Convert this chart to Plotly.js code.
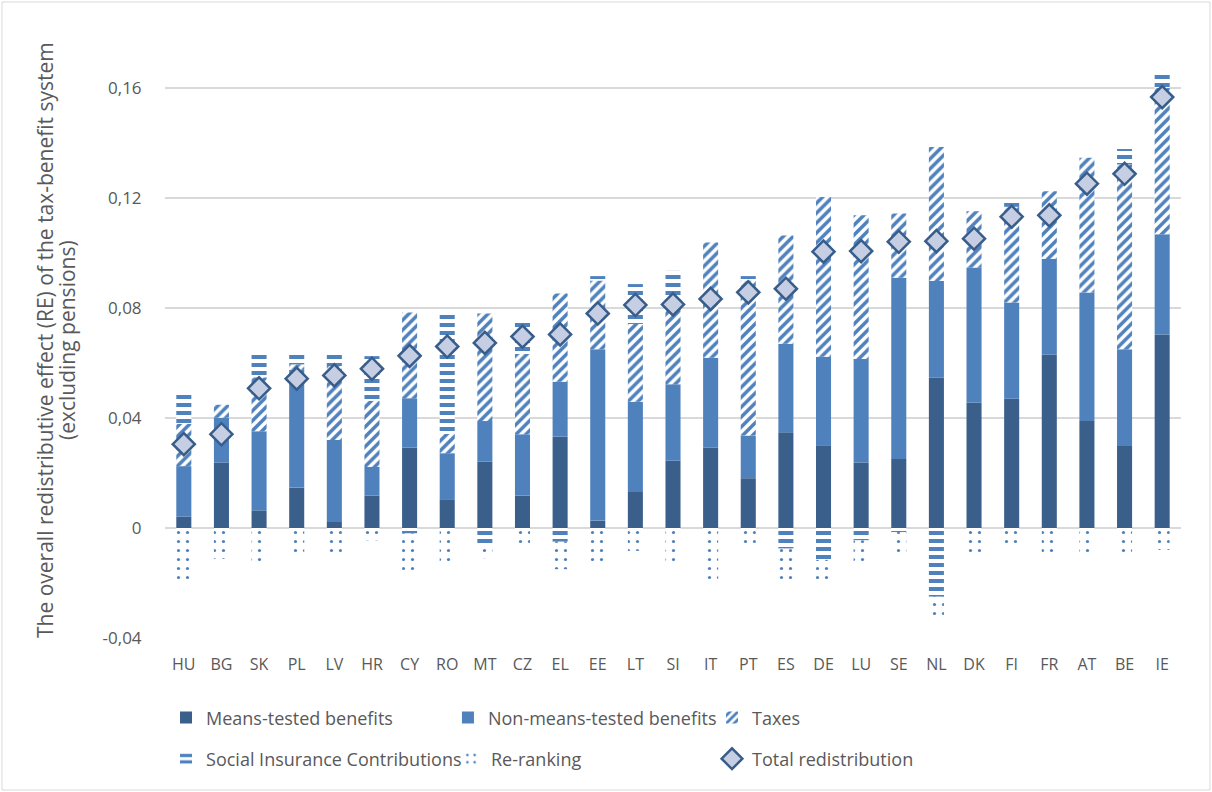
<!DOCTYPE html>
<html>
<head>
<meta charset="utf-8">
<script src="https://cdn.plot.ly/plotly-3.0.1.min.js"></script>
<style>
  html, body { margin: 0; padding: 0; background: #ffffff; }
  #chart { width: 1212px; height: 792px; }
</style>
</head>
<body>
<div id="chart"></div>
<script>
// ---- Data ----
const countries = ["HU","BG","SK","PL","LV","HR","CY","RO","MT","CZ","EL","EE","LT","SI","IT","PT","ES","DE","LU","SE","NL","DK","FI","FR","AT","BE","IE"];

const meansTested = [0.0041,0.0238,0.0064,0.0147,0.0022,0.0118,0.0292,0.0102,0.0241,0.0118,0.0332,0.0027,0.0131,0.0245,0.0292,0.0181,0.0348,0.0301,0.0238,0.0251,0.0546,0.0456,0.0470,0.0630,0.0389,0.0298,0.0704];

const nonMeansTested = [0.0184,0.0163,0.0288,0.0428,0.0298,0.0104,0.0180,0.0170,0.0148,0.0223,0.0200,0.0623,0.0328,0.0278,0.0327,0.0155,0.0322,0.0322,0.0377,0.0659,0.0352,0.0491,0.0350,0.0348,0.0467,0.0352,0.0364];

const taxes = [0.0154,0.0047,0.0196,0.0020,0.0269,0.0241,0.0312,0.0070,0.0391,0.0292,0.0321,0.0250,0.0283,0.0297,0.0419,0.0564,0.0394,0.0581,0.0522,0.0234,0.0487,0.0205,0.0348,0.0247,0.0490,0.0672,0.0532];

const socialInsurance = [0.0109,0.0000,0.0094,0.0047,0.0052,0.0162,-0.0020,0.0445,-0.0065,0.0123,-0.0050,0.0016,0.0145,0.0115,-0.0010,0.0016,-0.0075,-0.0116,-0.0045,-0.0015,-0.0250,-0.0007,0.0017,0.0000,0.0000,0.0056,0.0055];

const reRanking = [-0.0194,-0.0112,-0.0139,-0.0107,-0.0103,-0.0045,-0.0143,-0.0130,-0.0045,-0.0067,-0.0100,-0.0134,-0.0083,-0.0120,-0.0196,-0.0059,-0.0122,-0.0087,-0.0085,-0.0088,-0.0087,-0.0096,-0.0056,-0.0103,-0.0094,-0.0094,-0.0080];

const totalRedistribution = [0.0305,0.0341,0.0508,0.0543,0.0555,0.0579,0.0626,0.0660,0.0673,0.0696,0.0704,0.0780,0.0811,0.0813,0.0833,0.0857,0.0870,0.1005,0.1007,0.1041,0.1043,0.1052,0.1132,0.1137,0.1252,0.1288,0.1567];

const yTickVals = [-0.04, 0, 0.04, 0.08, 0.12, 0.16];
const yTickText = ["-0,04", "0", "0,04", "0,08", "0,12", "0,16"];
const yTitleLines = ["The overall redistributive effect (RE) of the tax-benefit system", "(excluding pensions)"];

// ---- Styling ----
const DARK = "#3A5F8B";
const MID = "#4F81BD";
const TEXT = "#595959";
const FONT = "Open Sans, sans-serif";

const traces = [
  {
    type: "bar", name: "Means-tested benefits", x: countries, y: meansTested,
    marker: { color: DARK, line: { width: 0 } }, legend: "legend"
  },
  {
    type: "bar", name: "Non-means-tested benefits", x: countries, y: nonMeansTested,
    marker: { color: MID, line: { width: 0 } }, legend: "legend2"
  },
  {
    type: "bar", name: "Taxes", x: countries, y: taxes,
    marker: { color: MID, line: { width: 0 },
      pattern: { shape: "/", fgcolor: MID, bgcolor: "#ffffff", size: 7, solidity: 0.5 } },
    legend: "legend3"
  },
  {
    type: "bar", name: "Social Insurance Contributions", x: countries, y: socialInsurance,
    marker: { color: MID, line: { width: 0 },
      pattern: { shape: "-", fgcolor: MID, bgcolor: "#ffffff", size: 8, solidity: 0.5 } },
    legend: "legend4"
  },
  {
    type: "bar", name: "Re-ranking", x: countries, y: reRanking,
    marker: { color: MID, line: { width: 0 },
      pattern: { shape: ".", fgcolor: MID, bgcolor: "#ffffff", size: 9, solidity: 0.1 } },
    legend: "legend5"
  },
  {
    type: "scatter", mode: "markers", name: "Total redistribution", x: countries, y: totalRedistribution,
    marker: { symbol: "diamond", size: 17, color: "#C5CEE2", line: { color: "#385D8A", width: 2.5 } },
    legend: "legend6"
  }
];

const legendBase = {
  orientation: "h", xanchor: "left", yanchor: "middle",
  bgcolor: "rgba(0,0,0,0)", borderwidth: 0,
  font: { family: FONT, size: 18, color: TEXT }
};
const row1 = -0.132, row2 = -0.200;

const layout = {
  width: 1212, height: 792,
  margin: { l: 165, r: 31, t: 33, b: 154 },
  paper_bgcolor: "#ffffff", plot_bgcolor: "#ffffff",
  font: { family: FONT, size: 16, color: TEXT },
  barmode: "relative",
  bargap: 0.6,
  showlegend: true,
  xaxis: {
    type: "category", range: [-0.5, countries.length - 0.5],
    showgrid: false, zeroline: false, showline: false,
    ticks: "outside", ticklen: 12, tickcolor: "rgba(0,0,0,0)",
    tickfont: { family: FONT, size: 16, color: TEXT },
    automargin: false, fixedrange: true
  },
  yaxis: {
    range: [-0.04, 0.18], tickmode: "array", tickvals: yTickVals, ticktext: yTickText,
    showgrid: true, gridcolor: "#D9D9D9", gridwidth: 1.3,
    zeroline: true, zerolinecolor: "#D9D9D9", zerolinewidth: 1.3,
    showline: false, ticks: "outside", ticklen: 19, tickcolor: "rgba(0,0,0,0)",
    tickfont: { family: FONT, size: 17, color: TEXT },
    automargin: false, fixedrange: true
  },
  annotations: [
    {
      text: yTitleLines[0], textangle: -90, showarrow: false,
      xref: "paper", yref: "paper", x: (45 - 165) / 1016, y: (638 - 340) / 605,
      xanchor: "center", yanchor: "middle",
      font: { family: FONT, size: 21, color: TEXT }
    },
    {
      text: yTitleLines[1], textangle: -90, showarrow: false,
      xref: "paper", yref: "paper", x: (67 - 165) / 1016, y: (638 - 340) / 605,
      xanchor: "center", yanchor: "middle",
      font: { family: FONT, size: 21, color: TEXT }
    }
  ],
  legend:  Object.assign({}, legendBase, { x: 0.001, y: row1 }),
  legend2: Object.assign({}, legendBase, { x: 0.2785, y: row1 }),
  legend3: Object.assign({}, legendBase, { x: 0.5384, y: row1 }),
  legend4: Object.assign({}, legendBase, { x: 0.001, y: row2 }),
  legend5: Object.assign({}, legendBase, { x: 0.2815, y: row2 }),
  legend6: Object.assign({}, legendBase, { x: 0.5384, y: row2 }),
  shapes: [{
    type: "rect", xref: "paper", yref: "paper", layer: "below",
    x0: (2 - 165) / 1016, x1: (1210 - 165) / 1016,
    y0: (638 - 790) / 605, y1: (638 - 2) / 605,
    line: { color: "#D9D9D9", width: 1 }, fillcolor: "rgba(0,0,0,0)"
  }]
};

Plotly.newPlot("chart", traces, layout, { displayModeBar: false, staticPlot: true });
</script>
</body>
</html>
